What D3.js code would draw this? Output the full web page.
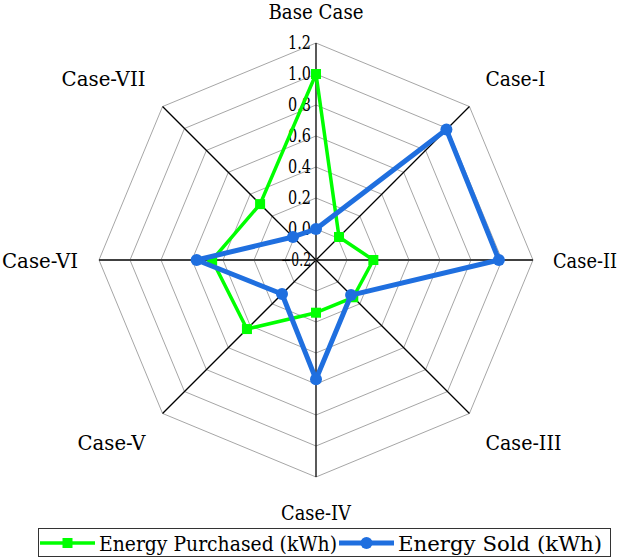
<!DOCTYPE html>
<html>
<head>
<meta charset="utf-8">
<script src="https://cdn.jsdelivr.net/npm/d3@7"></script>
<style>
  body { margin: 0; background: #fff; }
</style>
</head>
<body>
<div id="chart"></div>
<script>
// data
const categories = ["Base Case", "Case-I", "Case-II", "Case-III", "Case-IV", "Case-V", "Case-VI", "Case-VII"];
const purchased = [1.0, 0.01, 0.17, 0.14, 0.14, 0.43, 0.47, 0.31];
const sold = [0.0, 0.99, 0.98, 0.12, 0.57, 0.11, 0.57, 0.01];
const tickValues = [-0.2, 0.0, 0.2, 0.4, 0.6, 0.8, 1.0, 1.2];
const seriesNames = ["Energy Purchased (kWh)", "Energy Sold (kWh)"];

const width = 623, height = 559;
const cx = 316, cy = 260, R = 217;
const font = "'DejaVu Serif', serif";
// widths the labels take in the reference (its serif font is narrower than DejaVu)
const labelW = [95, 60, 64, 76, 70, 68, 76, 84];
const legendTextW = [238, 204];

const svg = d3.select("#chart").append("svg")
  .attr("width", width)
  .attr("height", height)
  .attr("font-family", font);

const r = d3.scaleLinear().domain([-0.2, 1.2]).range([0, R]);
const angle = d3.scaleLinear().domain([0, categories.length]).range([0, 2 * Math.PI]);

function pt(i, v) {
  const a = angle(i);
  return [cx + r(v) * Math.sin(a), cy - r(v) * Math.cos(a)];
}

function fit(sel, w) {
  sel.attr("textLength", w).attr("lengthAdjust", "spacingAndGlyphs");
}

const g = svg.append("g");

// rings
tickValues.slice(1).forEach((t) => {
  g.append("path")
    .attr("d", d3.line()(categories.map((c, i) => pt(i, t))) + "Z")
    .attr("fill", "none")
    .attr("stroke", "#a6a6a6")
    .attr("stroke-width", 1);
});

// spokes
categories.forEach((c, i) => {
  const p = pt(i, 1.2);
  g.append("line")
    .attr("x1", cx).attr("y1", cy)
    .attr("x2", p[0]).attr("y2", p[1])
    .attr("stroke", i % 4 === 2 ? "#404040" : "#000")
    .attr("stroke-width", i % 4 === 2 ? 2 : 1.3);
});

// tick labels
g.selectAll(".tick")
  .data(tickValues)
  .enter()
  .append("text")
  .attr("x", cx - 5)
  .attr("y", (d) => cy - r(d))
  .attr("dy", "0.36em")
  .attr("text-anchor", "end")
  .attr("font-size", 18)
  .text((d) => d3.format(".1f")(d))
  .each(function (d) { fit(d3.select(this), d < 0 ? 30 : 23); });

// category labels
categories.forEach((c, i) => {
  const a = angle(i);
  const sx = Math.sin(a), sy = -Math.cos(a);
  const v = pt(i, 1.2);
  let x = v[0], y = v[1], anchor = "middle";
  if (sx > 0.9) { anchor = "end"; x += 20 + labelW[i]; } // right edge of the picture
  else if (sx > 0.1) { anchor = "start"; x += 16; }
  if (sx < -0.1) { anchor = "end"; x -= Math.abs(sx) > 0.9 ? 21 : 17; }
  if (sy < -0.9) y -= 24;
  else if (sy < -0.1) y -= 21;
  else if (sy > 0.9) y += 43;
  else if (sy > 0.1) y += 37;
  else y += 8;
  const t = g.append("text")
    .attr("x", x)
    .attr("y", y)
    .attr("text-anchor", anchor)
    .attr("font-size", 21)
    .text(c);
  fit(t, labelW[i]);
});

// series
const series = [
  { name: seriesNames[0], values: purchased, color: "#00ff00", width: 3.5, shape: "square" },
  { name: seriesNames[1], values: sold, color: "#1f6fdf", width: 5, shape: "circle" }
];

series.forEach((s) => {
  const pts = s.values.map((v, i) => pt(i, v));
  g.append("path")
    .attr("d", d3.line()(pts) + "Z")
    .attr("fill", "none")
    .attr("stroke", s.color)
    .attr("stroke-width", s.width)
    .attr("stroke-linejoin", "round");
  pts.forEach((p) => {
    if (s.shape === "square") {
      g.append("rect")
        .attr("x", p[0] - 5).attr("y", p[1] - 5)
        .attr("width", 10).attr("height", 10)
        .attr("fill", s.color);
    } else {
      g.append("circle")
        .attr("cx", p[0]).attr("cy", p[1])
        .attr("r", 6)
        .attr("fill", s.color);
    }
  });
});

// legend
const legend = svg.append("g");
legend.append("rect")
  .attr("x", 38.5).attr("y", 528.5)
  .attr("width", 572).attr("height", 28)
  .attr("fill", "#fff")
  .attr("stroke", "#333")
  .attr("stroke-width", 1);

let lx = 40;
series.forEach((s, k) => {
  const ly = 543;
  legend.append("line")
    .attr("x1", lx).attr("x2", lx + 55)
    .attr("y1", ly).attr("y2", ly)
    .attr("stroke", s.color)
    .attr("stroke-width", s.width);
  if (s.shape === "square") {
    legend.append("rect")
      .attr("x", lx + 22.5).attr("y", ly - 5)
      .attr("width", 10).attr("height", 10)
      .attr("fill", s.color);
  } else {
    legend.append("circle")
      .attr("cx", lx + 27.5).attr("cy", ly)
      .attr("r", 6)
      .attr("fill", s.color);
  }
  const t = legend.append("text")
    .attr("x", lx + 59)
    .attr("y", ly + 8)
    .attr("font-size", 21)
    .text(s.name);
  fit(t, legendTextW[k]);
  lx = lx + 59 + legendTextW[k] + 2;
});
</script>
</body>
</html>
